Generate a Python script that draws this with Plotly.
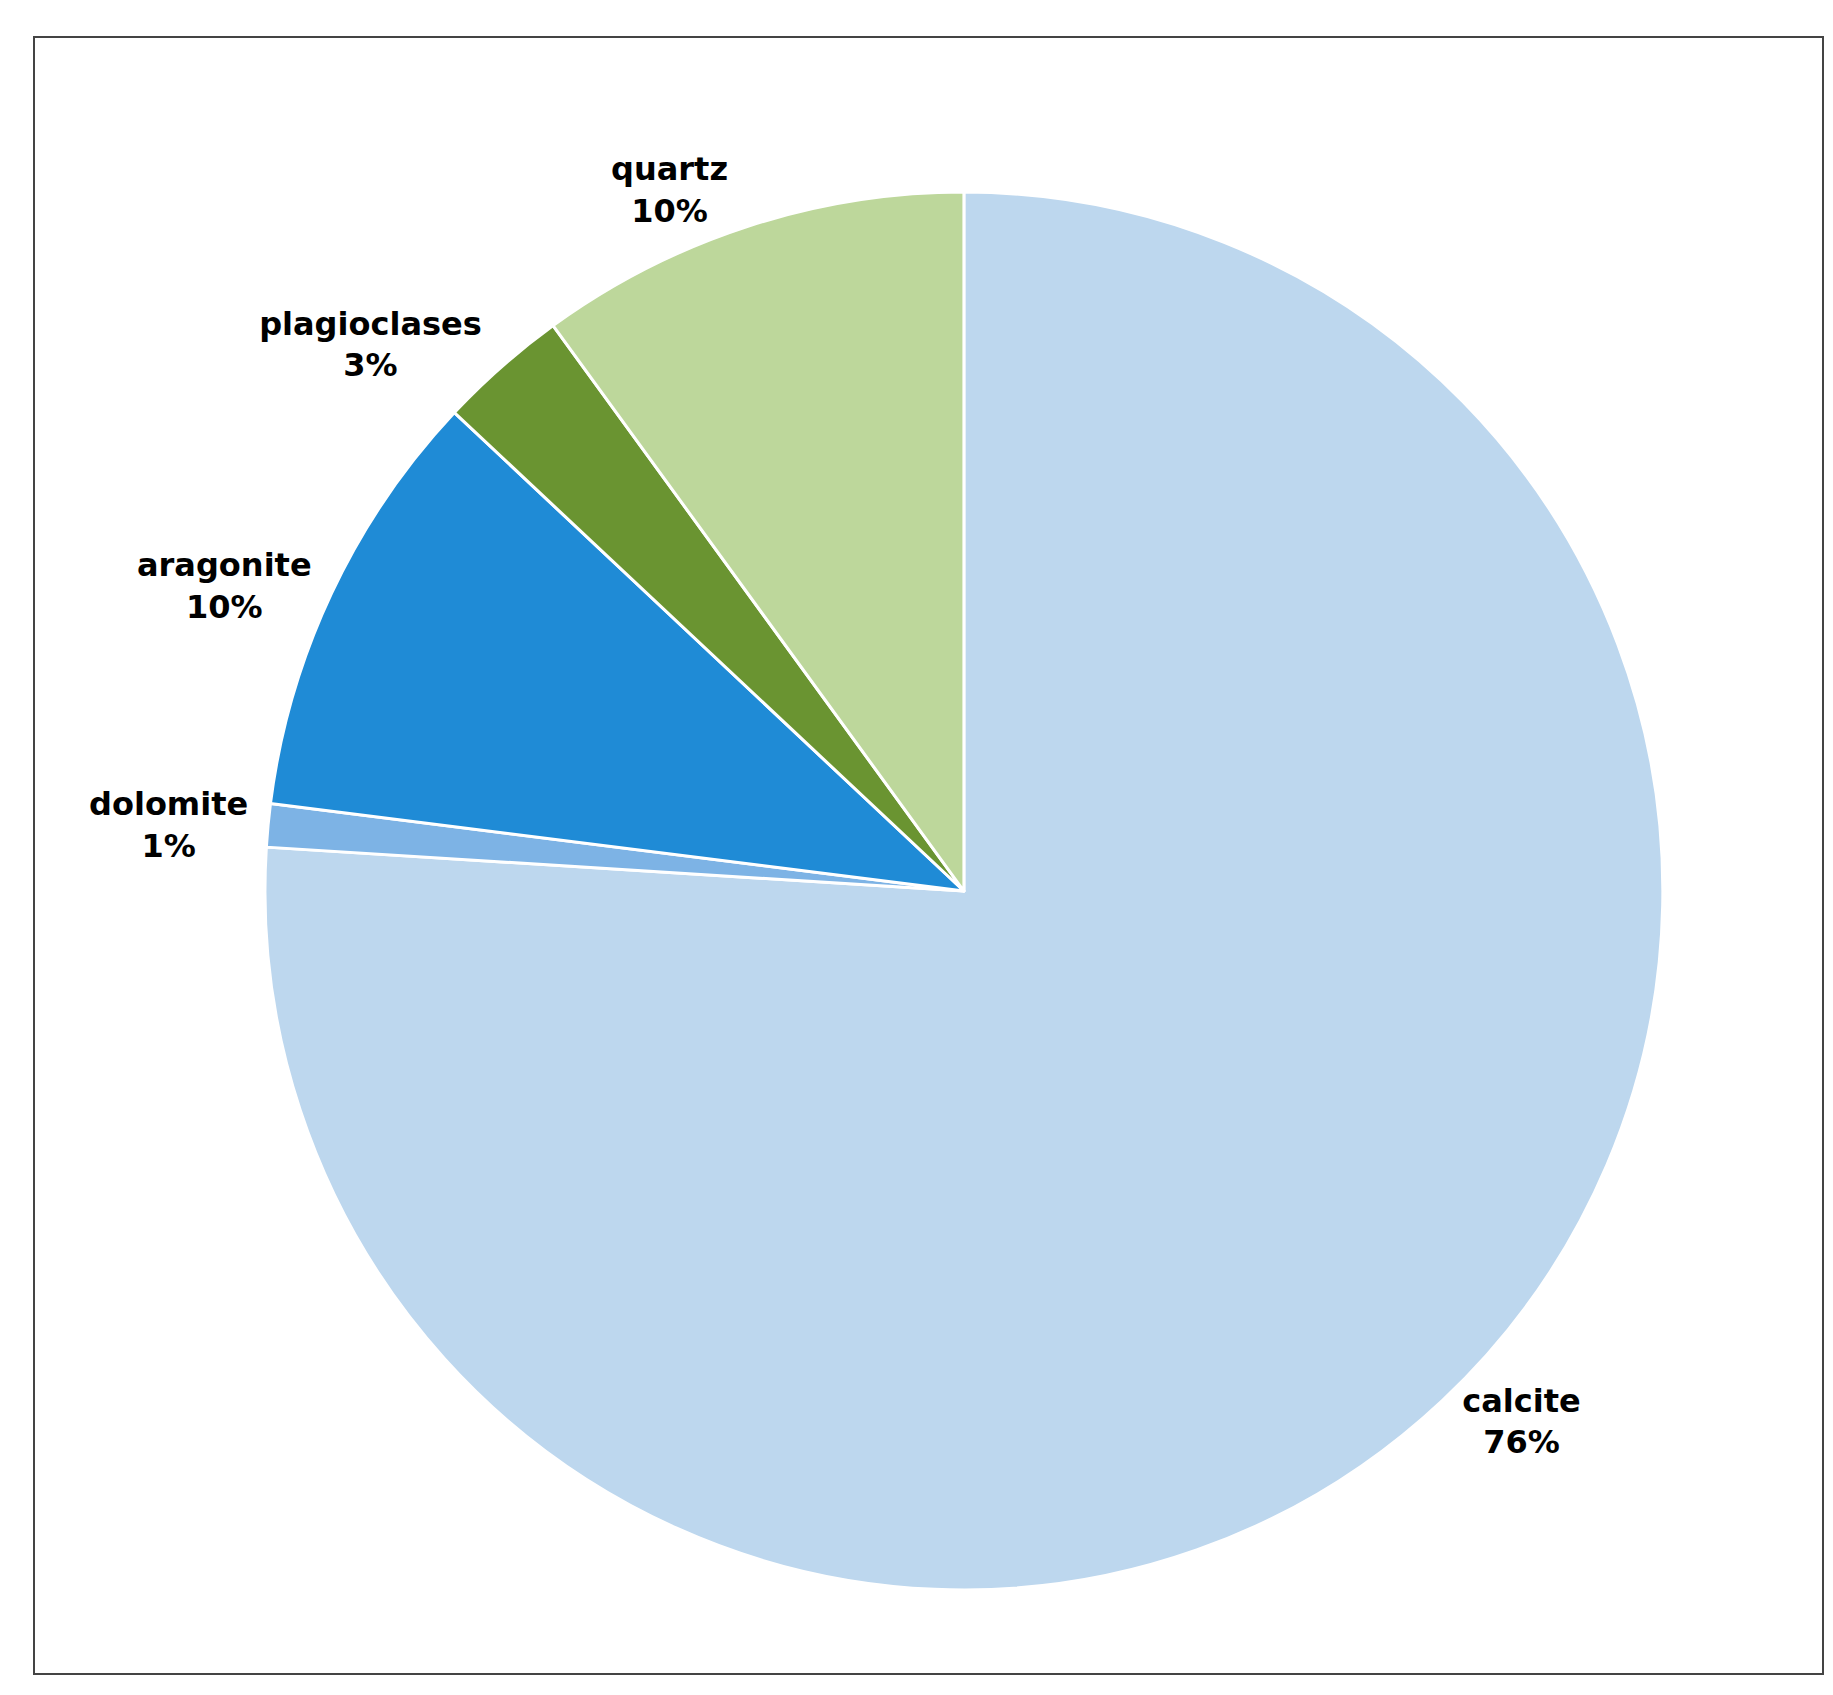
import plotly.graph_objects as go

labels = ["calcite", "dolomite", "aragonite", "plagioclases", "quartz"]
values = [76, 1, 10, 3, 10]
colors = ["#BDD7EE", "#7DB3E5", "#1F8BD6", "#6A9431", "#BDD79B"]

fig = go.Figure(go.Pie(
    labels=labels, values=values, sort=False, direction="clockwise", rotation=0,
    marker=dict(colors=colors, line=dict(color="white", width=3)),
    texttemplate="<b>%{label}</b><br><b>%{value}%</b>",
    textposition="outside", textfont=dict(family="DejaVu Sans", size=32, color="black"),
    domain=dict(x=[0.140, 0.903], y=[0.0667, 0.8914]),
    showlegend=False, hoverinfo="skip",
))
fig.update_layout(
    width=1833, height=1695, margin=dict(l=0, r=0, t=0, b=0),
    paper_bgcolor="white", plot_bgcolor="white",
    shapes=[dict(type="rect", xref="paper", yref="paper", x0=26/1833, x1=1815/1833,
                 y0=1-1666/1695, y1=1-29/1695, line=dict(color="#444", width=2))],
)
fig.write_html("out.html")
